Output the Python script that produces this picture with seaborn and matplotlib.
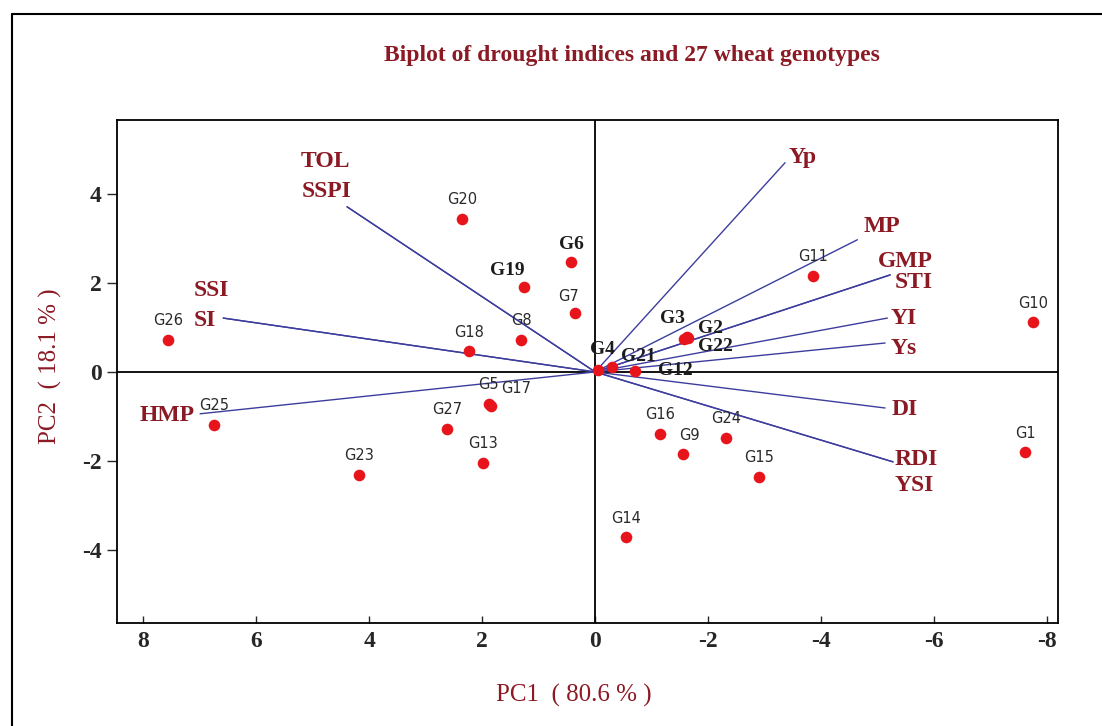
import matplotlib
matplotlib.use("Agg")
import matplotlib.pyplot as plt
import seaborn as sns
import pandas as pd
from matplotlib.lines import Line2D

# genotype scores
genotypes = ["G1", "G2", "G3", "G4", "G5", "G6", "G7", "G8", "G9", "G10",
             "G11", "G12", "G13", "G14", "G15", "G16", "G17", "G18", "G19", "G20",
             "G21", "G22", "G23", "G24", "G25", "G26", "G27"]
pc1 = [-7.61, -1.62, -1.58, -0.05, 1.88, 0.42, 0.35, 1.31, -1.56, -7.75,
       -3.86, -0.70, 1.98, -0.55, -2.90, -1.15, 1.84, 2.23, 1.26, 2.35,
       -0.30, -1.64, 4.18, -2.32, 6.74, 7.56, 2.62]
pc2 = [-1.80, 0.78, 0.74, 0.05, -0.72, 2.47, 1.33, 0.72, -1.84, 1.12,
       2.16, 0.02, -2.04, -3.71, -2.36, -1.39, -0.76, 0.47, 1.91, 3.44,
       0.12, 0.76, -2.31, -1.48, -1.19, 0.72, -1.28]

# drought index loadings
indices = ["Yp", "MP", "GMP", "STI", "YI", "Ys", "DI", "RDI", "YSI",
           "TOL", "SSPI", "SSI", "SI", "HMP"]
load1 = [-3.36, -4.64, -5.22, -5.22, -5.17, -5.13, -5.13, -5.27, -5.27,
         4.39, 4.39, 6.58, 6.58, 6.99]
load2 = [4.70, 2.97, 2.18, 2.18, 1.21, 0.65, -0.81, -2.02, -2.02,
         3.71, 3.71, 1.21, 1.21, -0.94]

xticks = [8, 6, 4, 2, 0, -2, -4, -6, -8]
yticks = [4, 2, 0, -2, -4]

df = pd.DataFrame({"genotype": genotypes, "PC1": pc1, "PC2": pc2})

RED = "#8b1a24"
BLUE = "#3d3d9e"
SERIF = ["Liberation Serif", "DejaVu Serif"]

sns.set_style("white")
plt.rcParams["font.family"] = ["DejaVu Sans"]

fig = plt.figure(figsize=(11.02, 7.26), dpi=100)
ax = fig.add_axes([0.1062, 0.1419, 0.8539, 0.6928])

ax.axhline(0, color="black", lw=1.3, zorder=1)
ax.axvline(0, color="black", lw=1.3, zorder=1)

sns.scatterplot(data=df, x="PC1", y="PC2", color="#e8141c", s=70,
                linewidth=0, ax=ax, legend=False, zorder=3)

for x, y in zip(load1, load2):
    ax.plot([0, x], [0, y], color=BLUE, lw=1.0, zorder=2)

# label nudges in pixels (dx, dy); bold ones are the crowded centre labels
nudge = {"G19": (-17, 16), "G7": (-7, 16), "G9": (6, 18), "G17": (25, 17),
         "G3": (-12, 21), "G2": (24, 9), "G22": (28, -8), "G4": (4, 20),
         "G21": (26, 10), "G12": (41, 1), "G6": (0, 17)}
bold = {"G6", "G19", "G3", "G2", "G22", "G4", "G21", "G12"}
for g, x, y in zip(genotypes, pc1, pc2):
    dx, dy = nudge.get(g, (0, 19))
    if g in bold:
        ax.annotate(g, (x, y), xytext=(dx, dy), textcoords="offset pixels",
                    ha="center", va="center", fontsize=14, fontweight="bold",
                    family=SERIF, color="#1c1c1c", zorder=4)
    else:
        ax.annotate(g, (x, y), xytext=(dx, dy), textcoords="offset pixels",
                    ha="center", va="center", fontsize=10.5, color="#2a2a2a",
                    zorder=4)

idx_pos = {"Yp": (4, 5, "left"), "MP": (6, 13, "left"), "GMP": (-12, 13, "left"),
           "STI": (5, -8, "left"), "YI": (3, 0, "left"), "Ys": (5, -5, "left"),
           "DI": (7, -2, "left"), "RDI": (2, 2, "left"), "YSI": (2, -24, "left"),
           "TOL": (-22, 45, "center"), "SSPI": (-20, 15, "center"),
           "SSI": (-30, 28, "left"), "SI": (-30, -2, "left"), "HMP": (-6, -2, "right")}
for name, x, y in zip(indices, load1, load2):
    dx, dy, ha = idx_pos[name]
    ax.annotate(name, (x, y), xytext=(dx, dy), textcoords="offset pixels",
                ha=ha, va="center", fontsize=17, fontweight="bold",
                family=SERIF, color=RED, zorder=4)

ax.set_xlim(8.46, -8.19)
ax.set_ylim(-5.64, 5.66)
ax.set_xticks(xticks)
ax.set_xticklabels([str(t) for t in xticks])
ax.set_yticks(yticks)
ax.set_yticklabels([str(t) for t in yticks])
for lab in ax.get_xticklabels() + ax.get_yticklabels():
    lab.set_family(SERIF)
    lab.set_fontweight("bold")
    lab.set_fontsize(17)
ax.tick_params(axis="y", direction="out", length=7, width=1, pad=4, left=True)
ax.tick_params(axis="x", direction="in", length=5, width=1, pad=6, bottom=True)
for sp in ax.spines.values():
    sp.set_color("black")
    sp.set_linewidth(1.3)

ax.set_xlabel("PC1  ( 80.6 % )", family=SERIF, fontsize=18, color=RED)
ax.xaxis.set_label_coords(0.485, -0.121)
ax.set_ylabel("PC2  ( 18.1 % )", family=SERIF, fontsize=18, color=RED)
ax.yaxis.set_label_coords(-0.059, 0.51)

fig.text(0.5735, 0.924, "Biplot of drought indices and 27 wheat genotypes",
         ha="center", va="center", family=SERIF, fontsize=17,
         fontweight="bold", color=RED)

# outer frame (left and top edges only, as in the scan)
fig.add_artist(Line2D([0.011, 0.011], [0.0, 0.981], transform=fig.transFigure,
                      color="black", lw=1.5))
fig.add_artist(Line2D([0.011, 1.0], [0.981, 0.981], transform=fig.transFigure,
                      color="black", lw=1.5))

fig.savefig("out.png", dpi=100)
